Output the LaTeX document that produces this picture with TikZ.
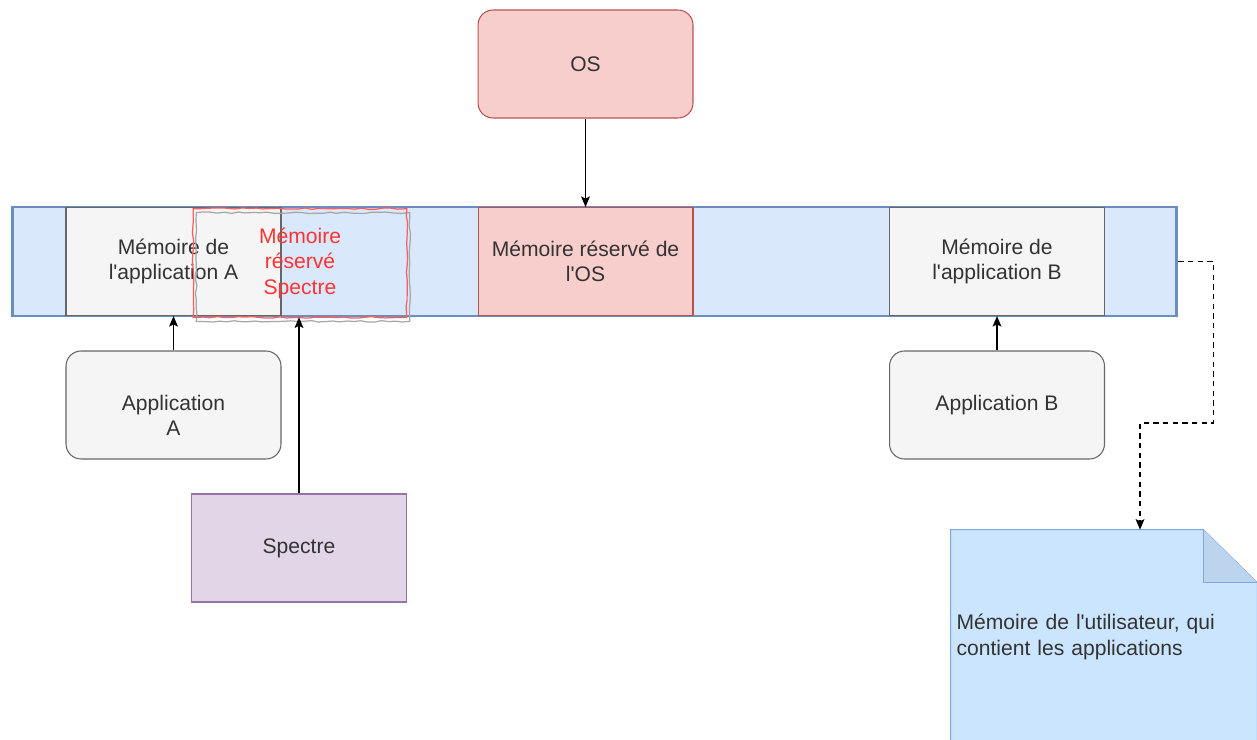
\documentclass[tikz,border=0pt]{standalone}
\usepackage{fontspec}
\setmainfont{Liberation Sans}
\usetikzlibrary{arrows.meta,decorations.pathmorphing,backgrounds}

\definecolor{barFill}{HTML}{DAE8FC}
\definecolor{barLine}{HTML}{6C8EBF}
\definecolor{grayFill}{HTML}{F5F5F5}
\definecolor{grayLine}{HTML}{666666}
\definecolor{osFill}{HTML}{F8CECC}
\definecolor{osLine}{HTML}{B85450}
\definecolor{spFill}{HTML}{E1D5E7}
\definecolor{spLine}{HTML}{9673A6}
\definecolor{noteFill}{HTML}{CCE5FF}
\definecolor{noteFold}{HTML}{BDD4EE}
\definecolor{noteLine}{HTML}{7EA6E0}
\definecolor{txtGray}{HTML}{333333}
\definecolor{sketchRed}{HTML}{FF3333}
\newcommand{\ap}{\textquotesingle}

\begin{document}
\begin{tikzpicture}
  [x=0.02cm,y=-0.02cm,
   every node/.style={font=\fontsize{12}{14.5}\selectfont, text=txtGray, align=center, inner sep=0pt},
   block/.style={draw=grayLine, fill=grayFill, line width=0.6pt, minimum width=4.3cm, minimum height=2.16cm},
   osblock/.style={block, draw=osLine, fill=osFill},
   round/.style={rounded corners=0.3cm},
   sketch/.style={line width=0.7pt, decorate, decoration={random steps, segment length=4pt, amplitude=0.45pt}},
   arr/.style={-{Stealth[length=6pt,width=5pt,inset=1.2pt]}, line width=0.75pt, black},
   dasharr/.style={arr, dash pattern=on 3pt off 2.5pt}]
  \useasboundingbox (0,0) rectangle (1257,740);
  \clip (0,0) rectangle (1257,740);

  % memory bar
  \node[draw=barLine, fill=barFill, line width=1.6pt, minimum width=23.3cm, minimum height=2.18cm] (mem) at (594.5,261.5) {};
  \node[block] (appMemA) at (173.5,261.5) {M\'emoire de\\l\ap application A};
  \node[osblock] (osMem) at (585.5,261.5) {M\'emoire r\'eserv\'e de\\l\ap OS};
  \node[block] (appMemB) at (997,261.5) {M\'emoire de\\l\ap application B};

  % spectre zone
  \node[minimum width=4.26cm, minimum height=2.16cm, text=sketchRed] (spMem) at (300,263) {M\'emoire\\r\'eserv\'e\\Spectre};
  \draw[sketch, gray!70] ([shift={(3,4)}]spMem.south west) rectangle ([shift={(3,4)}]spMem.north east);
  \draw[sketch, sketchRed!80] (spMem.south west) rectangle (spMem.north east);

  % boxes
  \node[osblock, round] (os) at (585.5,64) {OS};
  \node[block, round] (appA) at (173.5,405) {\strut\\Application\\A\strut};
  \node[block, round] (appB) at (997,405) {Application B};
  \node[block, draw=spLine, fill=spFill] (spectre) at (299,548) {Spectre};

  % note
  \node[minimum width=6.12cm, minimum height=4.28cm, text width=5.9cm, align=left] (note) at (1104,637) {M\'emoire de l\ap utilisateur, qui\\contient les applications};
  \begin{scope}[on background layer]
    \draw[noteLine, fill=noteFill, line width=0.6pt] (note.north west) -- ([xshift=-1.08cm]note.north east) -- ([yshift=-1.06cm]note.north east) -- (note.south east) -- (note.south west) -- cycle;
    \draw[noteLine, fill=noteFold, line width=0.6pt] ([xshift=-1.08cm]note.north east) -- ([xshift=-1.08cm,yshift=-1.06cm]note.north east) -- ([yshift=-1.06cm]note.north east);
  \end{scope}

  \foreach \from/\to in {appA/appMemA,spectre/spMem,appB/appMemB}
    \draw[arr] (\from.north) -- (\from.north |- \to.south);
  \draw[arr] (os.south) -- (osMem.north);

  \coordinate (bend) at (1140,423);
  \draw[dasharr] (mem.east) -- ++(35,0) |- (bend) -- (bend |- note.north);
\end{tikzpicture}
\end{document}
